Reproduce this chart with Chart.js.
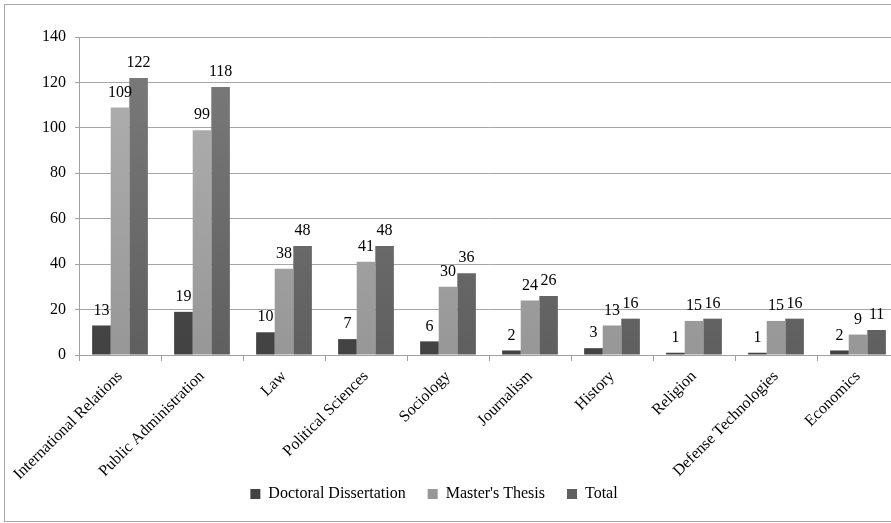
<!DOCTYPE html>
<html>
<head>
<meta charset="utf-8">
<script src="https://cdn.jsdelivr.net/npm/chart.js@4/dist/chart.umd.min.js"></script>
<style>
  html, body { margin: 0; padding: 0; background: #fff; overflow: hidden; }
  #frame {
    position: absolute; left: 4px; top: 4px;
    width: 900px; height: 516px;
    border: 1px solid #a8a8a8;
  }
  #chart { display: block; }
  #warm { position: absolute; left: -999px; font-family: 'Liberation Serif'; font-size: 16px; }
</style>
</head>
<body>
<span id="warm">Doctoral 0123456789</span>
<div id="frame"><canvas id="chart" width="900" height="516"></canvas></div>
<script>
var categories = ['International Relations', 'Public Administration', 'Law', 'Political Sciences',
    'Sociology', 'Journalism', 'History', 'Religion', 'Defense Technologies', 'Economics'];
var doctoral = [13, 19, 10, 7, 6, 2, 3, 1, 1, 2];
var masters = [109, 99, 38, 41, 30, 24, 13, 15, 15, 9];
var total = [122, 118, 48, 48, 36, 26, 16, 16, 16, 11];
var seriesNames = ['Doctoral Dissertation', "Master's Thesis", 'Total'];
var yMax = 140;
var yStep = 20;

var FONT = "'Liberation Serif', 'Times New Roman', serif";

// vertical gradient over the plot area, lighter at the top
function shade(top, bottom) {
    return function (ctx) {
        var area = ctx.chart.chartArea;
        if (!area) return bottom;
        var g = ctx.chart.ctx.createLinearGradient(0, area.top, 0, area.bottom);
        g.addColorStop(0, top);
        g.addColorStop(1, bottom);
        return g;
    };
}

var valueLabels = {
    id: 'valueLabels',
    afterDatasetsDraw: function (chart) {
        var c = chart.ctx;
        c.save();
        c.font = '16px ' + FONT;
        c.fillStyle = '#000';
        c.textAlign = 'center';
        c.textBaseline = 'bottom';
        chart.data.datasets.forEach(function (ds, i) {
            chart.getDatasetMeta(i).data.forEach(function (bar, j) {
                c.fillText(ds.data[j], bar.x, bar.y - 7);
            });
        });
        c.restore();
    }
};

// legend placed like the original, and room for the long rotated labels
var layoutFix = {
    id: 'layoutFix',
    afterLayout: function (chart) {
        var lg = chart.legend;
        var target = 429;
        lg.right = lg.left + 2 * (target - lg.left);
        chart.scales.x.bottom = lg.bottom;
    }
};

function drawChart() {
    var ctx = document.getElementById('chart').getContext('2d');
    new Chart(ctx, {
        type: 'bar',
        data: {
            labels: categories,
            datasets: [
                { label: seriesNames[0], data: doctoral, backgroundColor: shade('#5a5a5a', '#424242') },
                { label: seriesNames[1], data: masters, backgroundColor: shade('#b2b2b2', '#979797') },
                { label: seriesNames[2], data: total, backgroundColor: shade('#7c7c7c', '#5f5f5f') }
            ]
        },
        options: {
            responsive: false,
            animation: false,
            devicePixelRatio: 1,
            categoryPercentage: 0.68,
            barPercentage: 1,
            layout: {
                padding: { left: 0, right: 6, top: 32, bottom: 9 }
            },
            plugins: {
                legend: {
                    position: 'bottom',
                    labels: {
                        color: '#000',
                        font: { family: FONT, size: 16 },
                        boxWidth: 10,
                        boxHeight: 10,
                        padding: 22
                    }
                },
                tooltip: { enabled: false }
            },
            scales: {
                x: {
                    grid: {
                        drawOnChartArea: false,
                        drawTicks: true,
                        tickLength: 6,
                        color: '#a0a0a0'
                    },
                    border: { color: '#a0a0a0' },
                    ticks: {
                        color: '#000',
                        font: { family: FONT, size: 16 },
                        minRotation: 45,
                        maxRotation: 45,
                        autoSkip: false,
                        padding: 6
                    },
                    afterFit: function (s) { s.height = 109; }
                },
                y: {
                    min: 0,
                    max: yMax,
                    grid: {
                        color: '#a6a6a6',
                        tickLength: 4
                    },
                    border: { color: '#a0a0a0' },
                    ticks: {
                        stepSize: yStep,
                        color: '#000',
                        font: { family: FONT, size: 16 },
                        padding: 9
                    },
                    afterFit: function (s) { s.width = 74; }
                }
            }
        },
        plugins: [valueLabels, layoutFix]
    });
}

document.fonts.load("16px 'Liberation Serif'").then(drawChart, drawChart);
</script>
</body>
</html>
